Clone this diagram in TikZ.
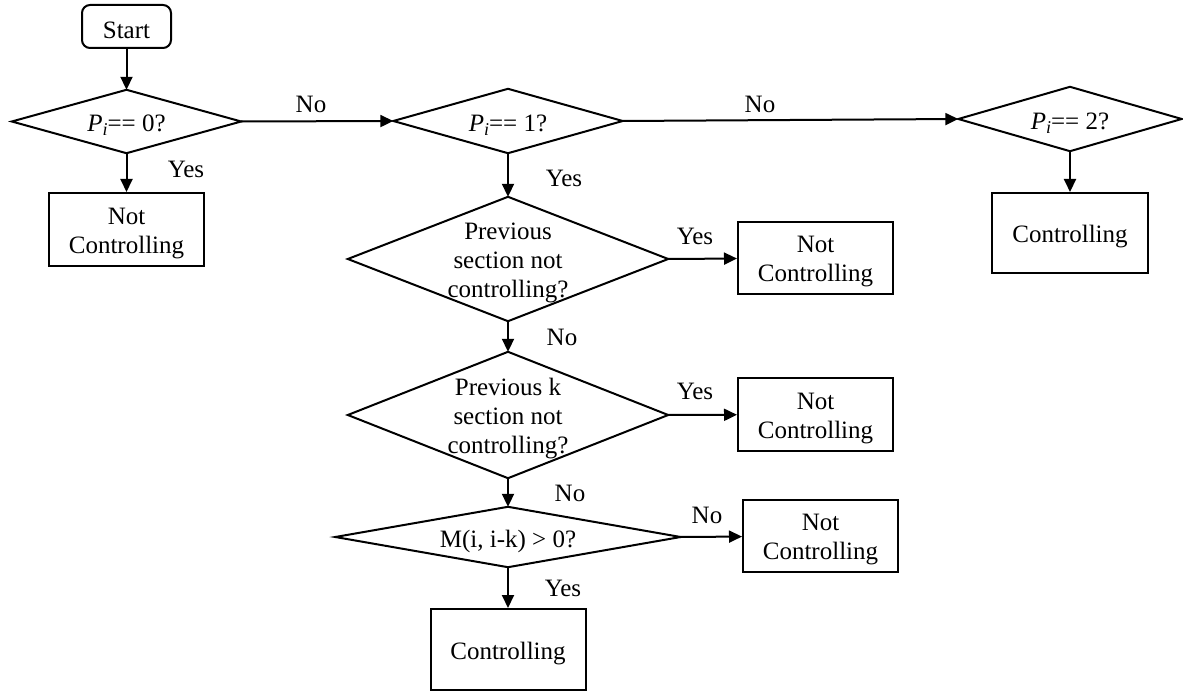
\documentclass[tikz,border=0pt]{standalone}
\usepackage{fontspec}
\setmainfont{Liberation Serif}
\usetikzlibrary{arrows.meta}
\newcommand{\PiEq}[1]{\textit{P}\raisebox{-0.35ex}{\fontsize{18}{18}\selectfont\textit{i}}#1}
\begin{document}
\begin{tikzpicture}[x=1pt,y=-1pt,
  every node/.style={font=\fontsize{25}{29}\selectfont},
  tx/.style={label={[inner sep=0pt, align=center, yshift=-4pt]center:#1}},
  box/.style={draw, line width=2pt, inner sep=0pt},
  dia/.style={inner sep=0pt},
  lbl/.style={inner sep=0pt},
  line/.style={line width=2pt},
  arr/.style={line width=2pt, -{Triangle[length=13pt,width=12pt]}}]
\useasboundingbox (0,0) rectangle (1183,692);
% nodes
\node[box, rounded corners=8pt, minimum width=89pt, minimum height=43pt, tx={Start}] (start) at (126.5,26.5) {};
\node[dia, minimum width=229pt, minimum height=63pt, tx={\PiEq{== 0?}}] (d0) at (126.5,121.5) {};
\node[box, minimum width=155pt, minimum height=73pt, tx={Not\\Controlling}] (nc0) at (126.5,229.5) {};
\node[dia, minimum width=229pt, minimum height=64pt, tx={\PiEq{== 1?}}] (d1) at (508,121) {};
\node[dia, minimum width=223pt, minimum height=64pt, tx={\PiEq{== 2?}}] (d2) at (1070,119) {};
\node[box, minimum width=156pt, minimum height=80pt, tx={Controlling}] (c2) at (1070,233) {};
\node[dia, minimum width=320pt, minimum height=124pt, tx={Previous\\section not\\controlling?}] (d3) at (508,259) {};
\node[box, minimum width=155pt, minimum height=72pt, tx={Not\\Controlling}] (nc3) at (815.5,258) {};
\node[dia, minimum width=320pt, minimum height=126pt, tx={Previous k\\section not\\controlling?}] (d4) at (508,415) {};
\node[box, minimum width=155pt, minimum height=73pt, tx={Not\\Controlling}] (nc4) at (815.5,414.5) {};
\node[dia, minimum width=345pt, minimum height=60pt, tx={M(i, i-k) {\textgreater} 0?}] (d5) at (508,537) {};
\node[box, minimum width=155pt, minimum height=72pt, tx={Not\\Controlling}] (nc5) at (820.5,536) {};
\node[box, minimum width=155pt, minimum height=81pt, tx={Controlling}] (c5) at (508,649.5) {};
% diamond outlines
\foreach \n in {d0,d1,d2,d3,d4,d5}
  \draw[line, line join=miter] (\n.north) -- (\n.east) -- (\n.south) -- (\n.west) -- cycle;
% connectors
\draw[arr] (start) -- (d0.north);
\draw[arr] (d0.south) -- (nc0);
\draw[arr] (d0.east) -- (d1.west);
\draw[arr] (d1.east) -- (d2.west);
\draw[arr] (d2.south) -- (c2);
\draw[arr] (d1.south) -- (d3.north);
\draw[arr] (d3.east) -- (nc3);
\draw[arr] (d3.south) -- (d4.north);
\draw[arr] (d4.east) -- (nc4);
\draw[arr] (d4.south) -- (d5.north);
\draw[arr] (d5.east) -- (nc5);
\draw[arr] (d5.south) -- (c5);
% labels
\node[lbl] (l1) at (186,169) {Yes};
\node[lbl] (l2) at (311,104) {No};
\node[lbl] (l3) at (760,104) {No};
\node[lbl] (l4) at (564,178) {Yes};
\node[lbl] (l5) at (695,236) {Yes};
\node[lbl] (l6) at (562,337) {No};
\node[lbl] (l7) at (695,391) {Yes};
\node[lbl] (l8) at (570,493) {No};
\node[lbl] (l9) at (707,515) {No};
\node[lbl] (l10) at (563,588) {Yes};
\end{tikzpicture}
\end{document}
